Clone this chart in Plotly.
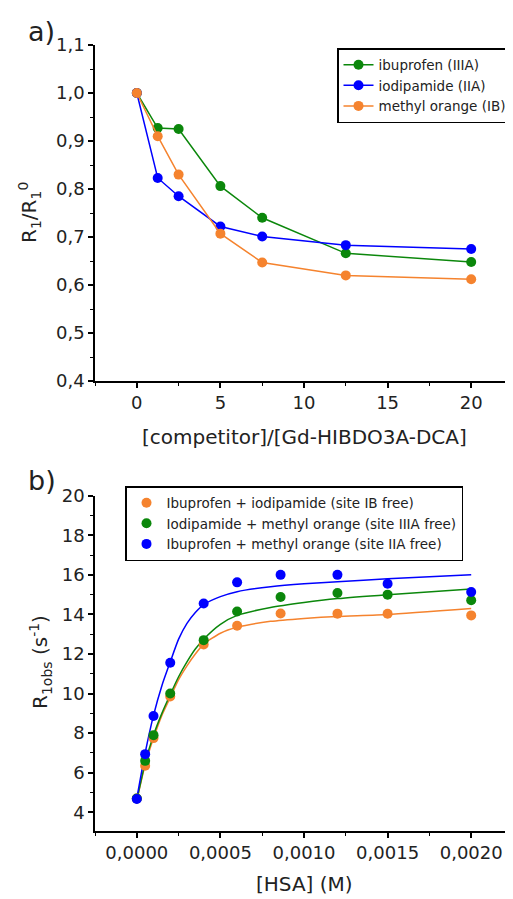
import plotly.graph_objects as go

# ---------------- Panel a) data ----------------
ratio_x = [0, 1.25, 2.5, 5, 7.5, 12.5, 20]
ibuprofen_IIIA = [1.0, 0.927, 0.925, 0.806, 0.740, 0.666, 0.648]
iodipamide_IIA = [1.0, 0.823, 0.785, 0.722, 0.701, 0.683, 0.675]
methylorange_IB = [1.0, 0.910, 0.830, 0.707, 0.647, 0.620, 0.612]

# ---------------- Panel b) data ----------------
hsa_x = [0, 0.00005, 0.0001, 0.0002, 0.0004, 0.0006, 0.00086, 0.0012, 0.0015, 0.0020]
ibu_iod_IBfree = [4.7, 6.35, 7.75, 9.85, 12.48, 13.43, 14.05, 14.04, 14.03, 13.95]
iod_mo_IIIAfree = [4.7, 6.6, 7.9, 10.0, 12.7, 14.15, 14.88, 15.08, 15.0, 14.72]
ibu_mo_IIAfree = [4.67, 6.94, 8.87, 11.56, 14.55, 15.62, 16.0, 16.0, 15.55, 15.13]

# fitted curves
fit_x = [0, 0.00005, 0.0001, 0.00015, 0.0002, 0.00025, 0.0003, 0.00035, 0.0004, 0.0005,
         0.0006, 0.0008, 0.0010, 0.0012, 0.0015, 0.0020]
fit_ibu_iod = [4.6, 6.4, 7.75, 8.9, 9.8, 10.7, 11.4, 12.0, 12.5, 13.05,
               13.35, 13.65, 13.8, 13.9, 14.0, 14.3]
fit_iod_mo = [4.6, 6.5, 7.9, 9.0, 9.95, 10.85, 11.6, 12.25, 12.75, 13.5,
              13.95, 14.35, 14.6, 14.8, 15.0, 15.28]
fit_ibu_mo = [4.7, 7.0, 8.9, 10.4, 11.6, 12.75, 13.55, 14.1, 14.5, 14.9,
              15.15, 15.4, 15.55, 15.65, 15.8, 16.0]

GREEN = "#0B870B"
BLUE = "#0000FF"
ORANGE = "#F5832E"
FONT = "DejaVu Sans"
TXT = "#222222"

OFF = 8  # page body margin in the browser
W, H = 513 - OFF, 899 - OFF
def px_x(p):
    return (p - OFF) / W
def px_y(p):
    return 1 - (p - OFF) / H

fig = go.Figure()

# panel a traces
for name, ys, col in [("ibuprofen (IIIA)", ibuprofen_IIIA, GREEN),
                      ("iodipamide (IIA)", iodipamide_IIA, BLUE),
                      ("methyl orange (IB)", methylorange_IB, ORANGE)]:
    fig.add_trace(go.Scatter(x=ratio_x, y=ys, name=name, mode="lines+markers",
                             line=dict(color=col, width=1.5),
                             marker=dict(color=col, size=10, symbol="circle"),
                             xaxis="x", yaxis="y", legend="legend"))

# panel b fit lines
for ys, col in [(fit_ibu_iod, ORANGE), (fit_iod_mo, GREEN), (fit_ibu_mo, BLUE)]:
    fig.add_trace(go.Scatter(x=fit_x, y=ys, mode="lines", showlegend=False,
                             line=dict(color=col, width=1.5, shape="spline", smoothing=0.6),
                             xaxis="x2", yaxis="y2", hoverinfo="skip"))

# panel b points
for name, ys, col in [("Ibuprofen + iodipamide (site IB free)", ibu_iod_IBfree, ORANGE),
                      ("Iodipamide + methyl orange (site IIIA free)", iod_mo_IIIAfree, GREEN),
                      ("Ibuprofen + methyl orange (site IIA free)", ibu_mo_IIAfree, BLUE)]:
    fig.add_trace(go.Scatter(x=hsa_x, y=ys, name=name, mode="markers",
                             marker=dict(color=col, size=10, symbol="circle"),
                             xaxis="x2", yaxis="y2", legend="legend2"))

axis_common = dict(showline=True, linecolor="black", linewidth=1.5, ticks="outside",
                   ticklen=5, tickwidth=1.5, tickcolor="black", showgrid=False,
                   zeroline=False, tickfont=dict(family=FONT, size=18, color=TXT),
                   automargin=False)

fig.update_layout(
    width=W, height=H,
    margin=dict(l=0, r=0, t=0, b=0),
    paper_bgcolor="white", plot_bgcolor="white",
    separators=", ",
    font=dict(family=FONT, color=TXT),
    xaxis=dict(axis_common, domain=[px_x(95), 1.0], anchor="y",
               range=[-2.5, 22.5], dtick=5, tick0=0,
               minor=dict(ticks="outside", ticklen=3, dtick=2.5, tick0=0,
                          tickcolor="black", tickwidth=1.2)),
    yaxis=dict(axis_common, domain=[px_y(381), px_y(45)], anchor="x",
               range=[0.4, 1.1], dtick=0.1, tick0=0, tickformat=".1f",
               minor=dict(ticks="outside", ticklen=3, dtick=0.05, tick0=0,
                          tickcolor="black", tickwidth=1.2)),
    xaxis2=dict(axis_common, domain=[px_x(95), 1.0], anchor="y2",
                range=[-0.00025, 0.00225], dtick=0.0005, tick0=0, tickformat=".4f",
                minor=dict(ticks="outside", ticklen=3, dtick=0.00025, tick0=0,
                           tickcolor="black", tickwidth=1.2)),
    yaxis2=dict(axis_common, domain=[px_y(831), px_y(495.7)], anchor="x2",
                range=[3.055, 20], dtick=2, tick0=0,
                minor=dict(ticks="outside", ticklen=3, dtick=1, tick0=0,
                           tickcolor="black", tickwidth=1.2)),
    legend=dict(x=px_x(512), y=px_y(48), xanchor="right", yanchor="top",
                bordercolor="black", borderwidth=1.5, bgcolor="white",
                font=dict(family=FONT, size=13.5, color=TXT),
                tracegroupgap=0, itemwidth=30),
    legend2=dict(x=px_x(125), y=px_y(486), xanchor="left", yanchor="top",
                 bordercolor="black", borderwidth=1.5, bgcolor="white",
                 font=dict(family=FONT, size=13.5, color=TXT),
                 tracegroupgap=0, itemwidth=30),
    showlegend=True,
)

annotations = [
    dict(text="a)", x=px_x(26), y=px_y(32), xanchor="left", yanchor="middle",
         font=dict(family=FONT, size=27, color=TXT)),
    dict(text="b)", x=px_x(26), y=px_y(480), xanchor="left", yanchor="middle",
         font=dict(family=FONT, size=27, color=TXT)),
    dict(text="[competitor]/[Gd-HIBDO3A-DCA]", x=px_x(304), y=px_y(437),
         xanchor="center", yanchor="middle", font=dict(family=FONT, size=20, color=TXT)),
    dict(text="[HSA] (M)", x=px_x(304), y=px_y(884),
         xanchor="center", yanchor="middle", font=dict(family=FONT, size=20, color=TXT)),
    dict(text="R<sub>1</sub>/R<sub>1</sub><sup>0</sup>", x=px_x(30), y=px_y(213),
         textangle=-90, xanchor="center", yanchor="middle",
         font=dict(family=FONT, size=20, color=TXT)),
    dict(text="R<sub>1obs</sub> (s<sup>-1</sup>)", x=px_x(40), y=px_y(662),
         textangle=-90, xanchor="center", yanchor="middle",
         font=dict(family=FONT, size=20, color=TXT)),
]
for a in annotations:
    a.update(xref="paper", yref="paper", showarrow=False)
fig.update_layout(annotations=annotations)

fig.write_html("out.html")
